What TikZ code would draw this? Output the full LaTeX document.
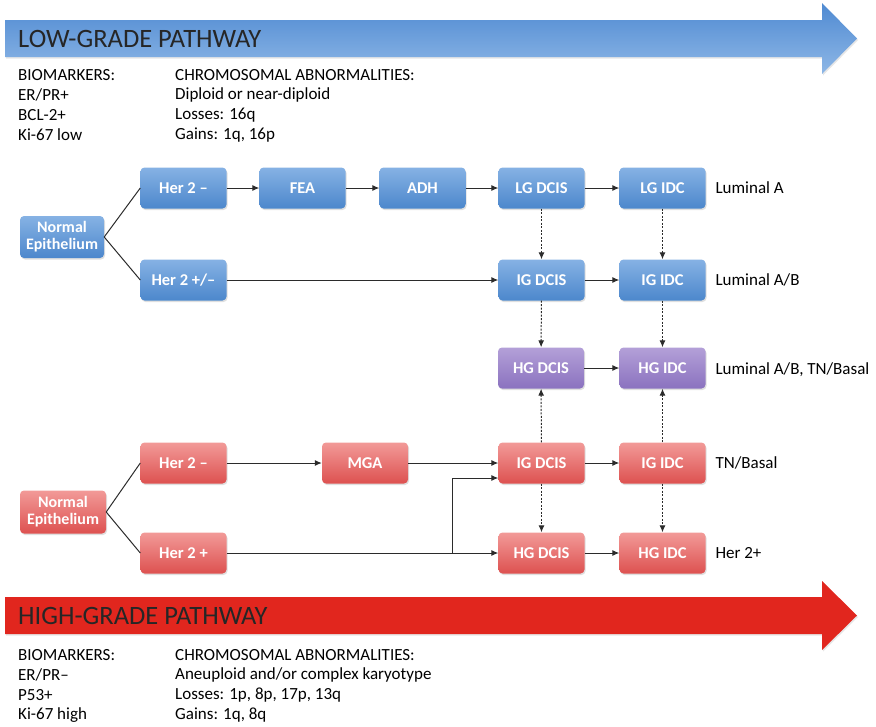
\documentclass[tikz,border=0pt]{standalone}
\usepackage{fontspec}
\setmainfont{Carlito}
\usetikzlibrary{arrows.meta,shadows}
\definecolor{btop}{HTML}{86B2E4}
\definecolor{bbot}{HTML}{4C87CC}
\definecolor{rtop}{HTML}{F29A98}
\definecolor{rbot}{HTML}{DD5150}
\definecolor{ptop}{HTML}{B3A0D8}
\definecolor{pbot}{HTML}{8B72BF}
\definecolor{arrblueA}{HTML}{4F8AD2}
\definecolor{arrblueB}{HTML}{8EB7E6}
\definecolor{arrred}{HTML}{E1261E}
\definecolor{lc}{HTML}{2B2B2B}
\tikzset{
  boxbase/.style={rounded corners=4pt, minimum width=86pt, minimum height=41pt,
    text=white, font=\bfseries\fontsize{16.5}{17}\selectfont, align=center, inner sep=1pt,
    drop shadow={opacity=0.25, shadow xshift=1pt, shadow yshift=-1.5pt}},
  bbox/.style={boxbase, top color=btop, bottom color=bbot},
  rbox/.style={boxbase, top color=rtop, bottom color=rbot},
  pbox/.style={boxbase, top color=ptop, bottom color=pbot},
  conn/.style={draw=lc, line width=1pt},
  arr/.style={conn, -{Latex[length=7pt,width=6pt]}},
  darr/.style={arr, dash pattern=on 2pt off 1.5pt},
  lbl/.style={anchor=west, font=\fontsize{17}{18}\selectfont, text=black},
  info/.style={anchor=west, font=\fontsize{17}{18}\selectfont, text=black, inner sep=0pt},
  title/.style={anchor=west, font=\fontsize{26.5}{28}\selectfont, text=black!85, inner sep=0pt}
}
\begin{document}
\begin{tikzpicture}[x=1pt,y=-1pt]
\useasboundingbox (0,0) rectangle (876,726);
% top arrow
\shade[top color=arrblueA, bottom color=arrblueB, drop shadow={opacity=0.2, shadow xshift=1pt, shadow yshift=-1.5pt}]
  (5,20) -- (822,20) -- (822,3) -- (857,38.5) -- (822,74) -- (822,57) -- (5,57) -- cycle;
\node[title] (t1) at (18,39) {LOW-GRADE PATHWAY};
\node[info] (b1) at (18,75) {BIOMARKERS:};
\node[info] (b2) at (18,95) {ER/PR+};
\node[info] (b3) at (18,115) {BCL-2+};
\node[info] (b4) at (18,135) {Ki-67 low};
\node[info] (c1) at (175,75) {CHROMOSOMAL ABNORMALITIES:};
\node[info] (c2) at (175,95) {Diploid or near-diploid};
\node[info] (c3) at (175,115) {Losses: 16q};
\node[info] (c4) at (175,135) {Gains: 1q, 16p};
% bottom arrow
\fill[arrred, drop shadow={opacity=0.2, shadow xshift=1pt, shadow yshift=-1.5pt}]
  (5,597) -- (822,597) -- (822,581) -- (857,615.5) -- (822,650) -- (822,634) -- (5,634) -- cycle;
\node[title] (t2) at (18,616) {HIGH-GRADE PATHWAY};
\node[info] (d1) at (18,655) {BIOMARKERS:};
\node[info] (d2) at (18,675) {ER/PR\textendash};
\node[info] (d3) at (18,695) {P53+};
\node[info] (d4) at (18,715) {Ki-67 high};
\node[info] (e1) at (175,655) {CHROMOSOMAL ABNORMALITIES:};
\node[info] (e2) at (175,675) {Aneuploid and/or complex karyotype};
\node[info] (e3) at (175,695) {Losses: 1p, 8p, 17p, 13q};
\node[info] (e4) at (175,715) {Gains: 1q, 8q};
% blue boxes
\node[bbox, minimum width=84pt, minimum height=42pt, font=\bfseries\fontsize{16}{17}\selectfont] (ne1) at (62,237) {Normal\\Epithelium};
\node[bbox] (h1) at (183.5,188) {Her 2 \textendash};
\node[bbox] (fea) at (302.5,188) {FEA};
\node[bbox] (adh) at (422.5,188) {ADH};
\node[bbox] (lgd) at (541.5,188) {LG DCIS};
\node[bbox] (lgi) at (662.5,188) {LG IDC};
\node[bbox] (h2) at (183.5,280) {Her 2 +/\textendash};
\node[bbox] (igd1) at (541.5,280) {IG DCIS};
\node[bbox] (igi1) at (662.5,280) {IG IDC};
% purple
\node[pbox] (hgd1) at (541,368) {HG DCIS};
\node[pbox] (hgi1) at (662.5,368) {HG IDC};
% red
\node[rbox, minimum width=86pt, minimum height=43pt, font=\bfseries\fontsize{16}{17}\selectfont] (ne2) at (63,512) {Normal\\Epithelium};
\node[rbox] (h3) at (183.5,463) {Her 2 \textendash};
\node[rbox] (mga) at (365,463) {MGA};
\node[rbox] (igd2) at (541.5,463) {IG DCIS};
\node[rbox] (igi2) at (662.5,463) {IG IDC};
\node[rbox] (h4) at (183.5,553) {Her 2 +};
\node[rbox] (hgd2) at (541.5,553) {HG DCIS};
\node[rbox] (hgi2) at (662.5,553) {HG IDC};
% row labels
\node[lbl] (l1) at (712,188) {Luminal A};
\node[lbl] (l2) at (712,280) {Luminal A/B};
\node[lbl] (l3) at (712,370) {Luminal A/B, TN/Basal};
\node[lbl] (l4) at (712,463) {TN/Basal};
\node[lbl] (l5) at (712,553) {Her 2+};
% connectors blue
\draw[conn] (ne1.east) -- (h1.west);
\draw[conn] (ne1.east) -- (h2.west);
\draw[arr] (h1) -- (fea);
\draw[arr] (fea) -- (adh);
\draw[arr] (adh) -- (lgd);
\draw[arr] (lgd) -- (lgi);
\draw[arr] (h2) -- (igd1);
\draw[arr] (igd1) -- (igi1);
\draw[darr] (lgd) -- (igd1);
\draw[darr] (lgi) -- (igi1);
\draw[darr] (igd1) -- (hgd1);
\draw[darr] (igi1) -- (hgi1);
\draw[arr] (hgd1) -- (hgi1);
% connectors red
\draw[conn] (ne2.east) -- (h3.west);
\draw[conn] (ne2.east) -- (h4.west);
\draw[arr] (h3) -- (mga);
\draw[arr] (mga) -- (igd2);
\draw[arr] (igd2) -- (igi2);
\draw[arr] (h4) -- (hgd2);
\draw[arr] (hgd2) -- (hgi2);
\coordinate (br) at (452,553);
\draw[arr] (br) |- ([yshift=-15pt]igd2.west);
\draw[darr] (igd2) -- (hgd1);
\draw[darr] (igi2) -- (hgi1);
\draw[darr] (igd2) -- (hgd2);
\draw[darr] (igi2) -- (hgi2);
\end{tikzpicture}
\end{document}
